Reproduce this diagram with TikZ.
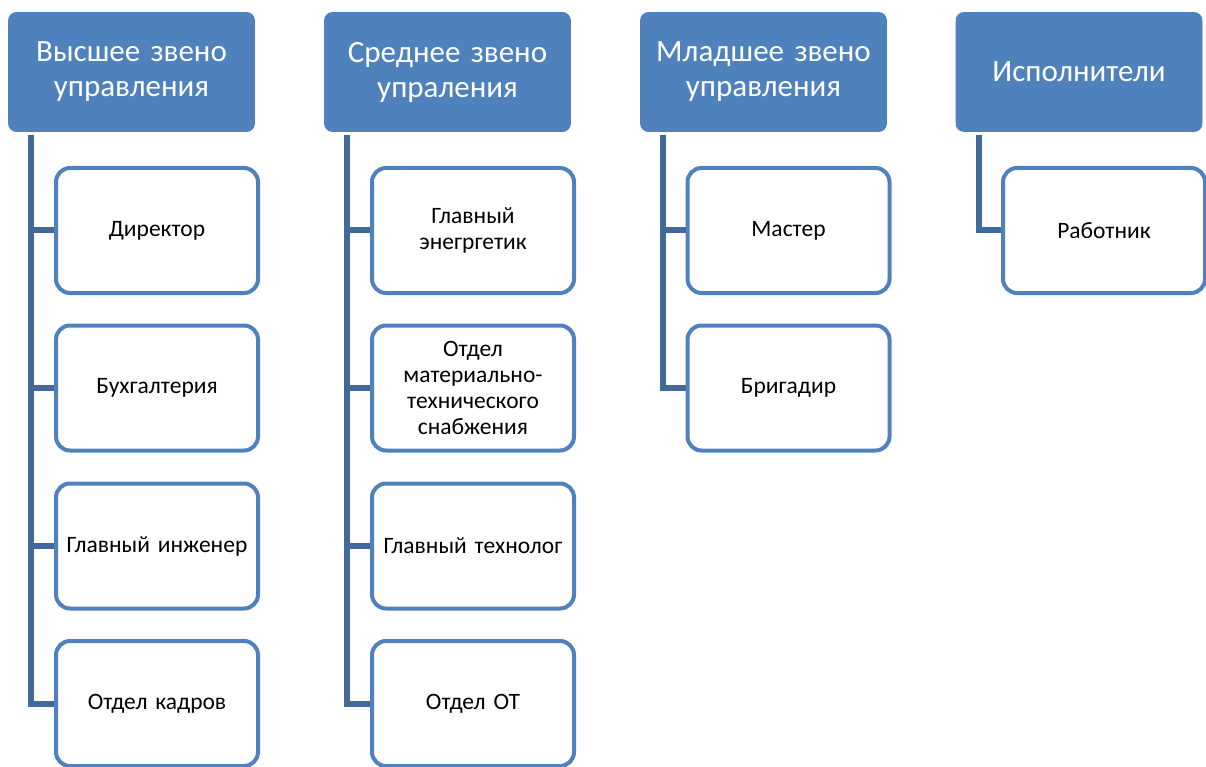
\documentclass[tikz,border=0pt]{standalone}
\usepackage{fontspec}
\setmainfont{Carlito}
\definecolor{hdr}{HTML}{4F81BD}
\definecolor{conncol}{HTML}{41699A}
\begin{document}
\begin{tikzpicture}[x=1pt,y=-1pt,
  head/.style={rectangle, rounded corners=8pt, fill=hdr, draw=hdr, line width=0.8pt,
    minimum width=246pt, minimum height=119pt, text=white, inner sep=2pt,
    font=\fontsize{31}{35}\selectfont, align=center, text width=240pt},
  child/.style={rectangle, rounded corners=14pt, draw=hdr, line width=4pt, fill=white,
    minimum width=202pt, minimum height=125pt, inner sep=2pt,
    font=\fontsize{23.5}{26}\selectfont, align=center, text width=198pt},
  conn/.style={draw=conncol, line width=6pt, line join=miter}]
\useasboundingbox (0,0) rectangle (1206,767);

% column 1
\node[head] (h1) at (131.5,72) {Высшее звено\\управления};
\node[child] (c11) at (157,230.5) {Директор};
\node[child] (c12) at (157,388) {Бухгалтерия};
\node[child] (c13) at (157,546) {Главный инженер};
\node[child] (c14) at (157,703.5) {Отдел кадров};
\coordinate (t1) at (31,135);
\draw[conn] (t1) |- (c14.west);
\draw[conn] (c11.west -| t1) -- (c11.west);
\draw[conn] (c12.west -| t1) -- (c12.west);
\draw[conn] (c13.west -| t1) -- (c13.west);

% column 2
\node[head] (h2) at (447.5,72) {Среднее звено\\упраления};
\node[child] (c21) at (473,230.5) {Главный\\энегргетик};
\node[child] (c22) at (473,388) {Отдел\\материально-\\технического\\снабжения};
\node[child] (c23) at (473,546) {Главный технолог};
\node[child] (c24) at (473,703.5) {Отдел ОТ};
\coordinate (t2) at (347,135);
\draw[conn] (t2) |- (c24.west);
\draw[conn] (c21.west -| t2) -- (c21.west);
\draw[conn] (c22.west -| t2) -- (c22.west);
\draw[conn] (c23.west -| t2) -- (c23.west);

% column 3
\node[head] (h3) at (763.5,72) {Младшее звено\\управления};
\node[child] (c31) at (788.5,230.5) {Мастер};
\node[child] (c32) at (788.5,388) {Бригадир};
\coordinate (t3) at (663,135);
\draw[conn] (t3) |- (c32.west);
\draw[conn] (c31.west -| t3) -- (c31.west);

% column 4
\node[head] (h4) at (1079,72) {Исполнители};
\node[child] (c41) at (1104,230.5) {Работник};
\coordinate (t4) at (979,135);
\draw[conn] (t4) |- (c41.west);
\end{tikzpicture}
\end{document}
